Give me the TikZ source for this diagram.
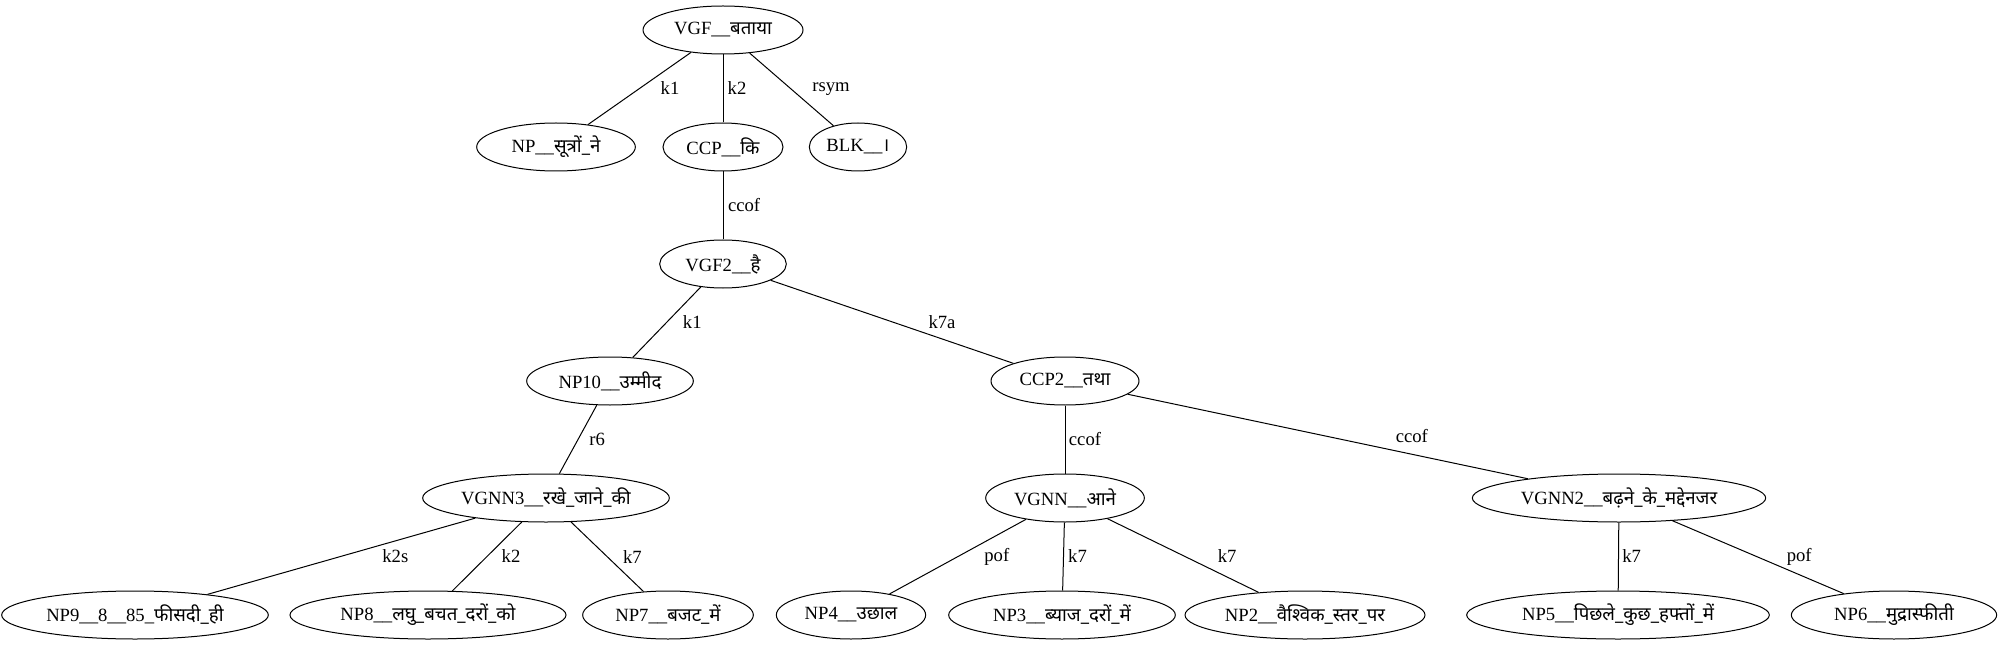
\documentclass[tikz,border=0pt]{standalone}
\usepackage{fontspec}
\setmainfont{Liberation Serif}
\newfontfamily\hindi[Script=Devanagari]{Noto Sans}
\usepackage{tikz}
\usetikzlibrary{shapes.geometric}

\begin{document}
\begin{tikzpicture}[
    x=0.75pt, y=-0.75pt,
    font=\fontsize{14}{16}\selectfont,
    tok/.style={ellipse, draw=black, line width=0.75pt, minimum height=36pt, inner sep=1pt},
    dep/.style={draw=black, line width=0.75pt},
    rel/.style={midway, inner sep=1pt},
]
\useasboundingbox (0,0) rectangle (2001,645);

% Root
\node[tok, minimum width=120pt] (vgf) at (723,30) {VGF\_\_\hindi बताया};

% Rank 1
\node[tok, minimum width=119pt] (np1) at (556,147) {NP\_\_\hindi सूत्रों\_ने};
\node[tok, minimum width=90pt] (ccp) at (723,147) {CCP\_\_\hindi कि};
\node[tok, minimum width=73pt] (blk) at (858,147) {BLK\_\_\hindi ।};

% Rank 2
\node[tok, minimum width=95pt] (vgf2) at (723,264) {VGF2\_\_\hindi है};

% Rank 3
\node[tok, minimum width=125pt] (np10) at (610,381) {NP10\_\_\hindi उम्मीद};
\node[tok, minimum width=111pt] (ccp2) at (1065,381) {CCP2\_\_\hindi तथा};

% Rank 4
\node[tok, minimum width=185pt] (vgnn3) at (546,498) {VGNN3\_\_\hindi रखे\_जाने\_की};
\node[tok, minimum width=119pt] (vgnn) at (1065,498) {VGNN\_\_\hindi आने};
\node[tok, minimum width=220pt] (vgnn2) at (1619,498) {VGNN2\_\_\hindi बढ़ने\_के\_मद्देनजर};

% Leaves
\node[tok, minimum width=200pt] (np9) at (135,615) {NP9\_\_8\_\_85\_\hindi फीसदी\_ही};
\node[tok, minimum width=207pt] (np8) at (428,615) {NP8\_\_\hindi लघु\_बचत\_दरों\_को};
\node[tok, minimum width=128pt] (np7) at (668,615) {NP7\_\_\hindi बजट\_में};
\node[tok, minimum width=112pt] (np4) at (851,615) {NP4\_\_\hindi उछाल};
\node[tok, minimum width=170pt] (np3) at (1062,615) {NP3\_\_\hindi ब्याज\_दरों\_में};
\node[tok, minimum width=180pt] (np2) at (1305,615) {NP2\_\_\hindi वैश्विक\_स्तर\_पर};
\node[tok, minimum width=227pt] (np5) at (1618,615) {NP5\_\_\hindi पिछले\_कुछ\_हफ्तों\_में};
\node[tok, minimum width=154pt] (np6) at (1894,615) {NP6\_\_\hindi मुद्रास्फीती};

% Edges
\draw[dep] (vgf) -- node[rel, xshift=22.9pt] {k1} (np1);
\draw[dep] (vgf) -- node[rel, xshift=10.5pt] {k2} (ccp);
\draw[dep] (vgf) -- node[rel, xshift=29.6pt] {rsym} (blk);
\draw[dep] (ccp) -- node[rel, xshift=15.8pt] {ccof} (vgf2);
\draw[dep] (vgf2) -- node[rel, xshift=19.1pt] {k1} (np10);
\draw[dep] (vgf2) -- node[rel, xshift=37.5pt] {k7a} (ccp2);
\draw[dep] (np10) -- node[rel, xshift=14.3pt] {r6} (vgnn3);
\draw[dep] (ccp2) -- node[rel, xshift=15pt] {ccof} (vgnn);
\draw[dep] (ccp2) -- node[rel, xshift=63pt] {ccof} (vgnn2);

\draw[dep] (vgnn3) -- node[rel, xshift=40.5pt] {k2s} (np9);
\draw[dep] (vgnn3) -- node[rel, xshift=18pt] {k2} (np8);
\draw[dep] (vgnn3) -- node[rel, xshift=18.8pt] {k7} (np7);
\draw[dep] (vgnn) -- node[rel, xshift=29.3pt] {pof} (np4);
\draw[dep] (vgnn) -- node[rel, xshift=10.5pt] {k7} (np3);
\draw[dep] (vgnn) -- node[rel, xshift=33pt] {k7} (np2);
\draw[dep] (vgnn2) -- node[rel, xshift=9.8pt] {k7} (np5);
\draw[dep] (vgnn2) -- node[rel, xshift=30.8pt] {pof} (np6);

\end{tikzpicture}
\end{document}
